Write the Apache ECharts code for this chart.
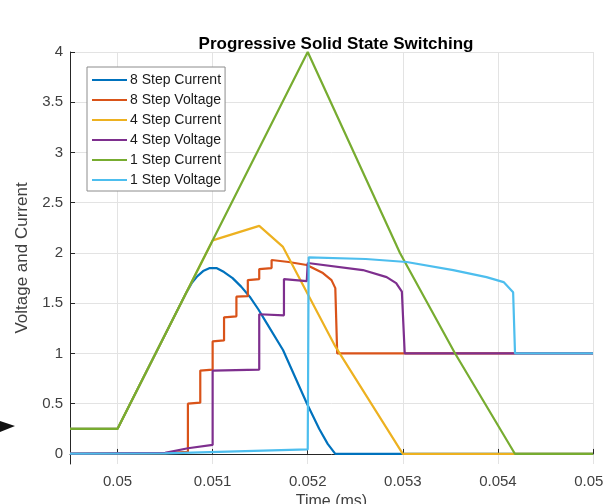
<!DOCTYPE html>
<html>
<head>
<meta charset="utf-8">
<script src="https://cdn.jsdelivr.net/npm/echarts@6/dist/echarts.min.js"></script>
<style>
  html, body { margin: 0; padding: 0; background: #fff; }
  #chart { width: 603px; height: 504px; }
</style>
</head>
<body>
<div id="chart"></div>
<script>
// axis ticks
const xTicks = [0.05, 0.051, 0.052, 0.053, 0.054, 0.055]
const yTicks = [0, 0.5, 1, 1.5, 2, 2.5, 3, 3.5, 4]

// series, [time (ms), value]
const names = ['8 Step Current', '8 Step Voltage', '4 Step Current', '4 Step Voltage', '1 Step Current', '1 Step Voltage']
const colors = ['#0072BD', '#D95319', '#EDB120', '#7E2F8E', '#77AC30', '#4DBEEE']

const step8Current = [
  [0.0495, 0.25], [0.05, 0.25], [0.05072, 1.6], [0.05078, 1.7], [0.05084, 1.77],
  [0.0509, 1.82], [0.05097, 1.85], [0.05104, 1.85], [0.05112, 1.81], [0.05121, 1.75],
  [0.0513, 1.665], [0.05139, 1.565], [0.05148, 1.44], [0.05157, 1.30], [0.05174, 1.035],
  [0.05199, 0.505], [0.05212, 0.25], [0.05221, 0.1], [0.05229, 0], [0.055, 0]
]
const step8Voltage = [
  [0.0495, 0.003], [0.0505, 0.008], [0.05074, 0.02], [0.05074, 0.5], [0.05087, 0.51],
  [0.05087, 0.83], [0.0510, 0.84], [0.0510, 1.12], [0.05112, 1.13], [0.05112, 1.36],
  [0.05125, 1.37], [0.05125, 1.565], [0.05137, 1.57], [0.05137, 1.73], [0.05149, 1.74],
  [0.05149, 1.84], [0.05162, 1.85], [0.05162, 1.93], [0.0518, 1.91], [0.05199, 1.88],
  [0.05216, 1.80], [0.05225, 1.73], [0.05229, 1.65], [0.05231, 1.0], [0.055, 1.0]
]
const step4Current = [
  [0.0495, 0.25], [0.05, 0.25], [0.0510, 2.125], [0.05149, 2.27], [0.05174, 2.06],
  [0.05229, 1.07], [0.053, 0], [0.055, 0]
]
const step4Voltage = [
  [0.0495, 0.003], [0.0505, 0.01], [0.05074, 0.057], [0.0510, 0.09], [0.0510, 0.83],
  [0.05149, 0.84], [0.05149, 1.39], [0.05175, 1.38], [0.05175, 1.74], [0.05199, 1.72],
  [0.052, 1.72], [0.052, 1.9], [0.05258, 1.83], [0.05283, 1.76], [0.05293, 1.70],
  [0.05299, 1.615], [0.05302, 1.0], [0.055, 1.0]
]
const step1Current = [
  [0.0495, 0.25], [0.05, 0.25], [0.052, 4], [0.05297, 2.0], [0.05355, 1.0],
  [0.05418, 0], [0.055, 0]
]
const step1Voltage = [
  [0.0495, 0.003], [0.0505, 0.006], [0.052, 0.045], [0.05201, 1.957], [0.05261, 1.94],
  [0.05304, 1.91], [0.05353, 1.83], [0.05388, 1.76], [0.05406, 1.71], [0.05416, 1.61],
  [0.05418, 1.0], [0.055, 1.0]
]
const allData = [step8Current, step8Voltage, step4Current, step4Voltage, step1Current, step1Voltage]

const chart = echarts.init(document.getElementById('chart'))

const font = 'Liberation Sans, Arial'
const axisText = {color: '#404040', fontSize: 15, fontFamily: font}

let option = {
  animation: false,
  title: {
    text: 'Progressive Solid State Switching',
    left: 331,
    top: 31,
    textAlign: 'center',
    textStyle: {fontSize: 17, fontWeight: 'bold', color: '#000', fontFamily: font}
  },
  grid: {left: 70, right: 10, top: 52, bottom: 40, outerBoundsMode: 'none'},
  legend: {
    data: names,
    orient: 'vertical',
    left: 87,
    top: 67,
    icon: 'rect',
    itemWidth: 35,
    itemHeight: 2,
    itemGap: 4,
    padding: [5, 4, 3, 5],
    backgroundColor: '#fff',
    borderColor: '#8c8c8c',
    borderWidth: 1,
    borderRadius: 0,
    textStyle: {fontSize: 14, lineHeight: 16, color: '#1a1a1a', fontFamily: font, padding: [0, 0, 0, -2]}
  },
  xAxis: {
    type: 'value',
    min: 0.0495,
    max: 0.055,
    name: 'Time (ms)',
    nameLocation: 'middle',
    nameGap: 30,
    nameTextStyle: {...axisText, fontSize: 16},
    axisLine: {lineStyle: {color: '#262626', width: 1}},
    axisTick: {inside: true, length: 5, customValues: xTicks, lineStyle: {color: '#262626'}},
    axisLabel: {customValues: xTicks, margin: 10, ...axisText, formatter: v => String(+v.toFixed(3))},
    splitLine: {show: true, lineStyle: {color: '#e3e3e3', width: 1}}
  },
  yAxis: {
    type: 'value',
    min: -0.1,
    max: 4,
    name: 'Voltage and Current',
    nameLocation: 'middle',
    nameGap: 36,
    nameTextStyle: {...axisText, fontSize: 17},
    axisLine: {show: true, lineStyle: {color: '#262626', width: 1}},
    axisTick: {show: true, inside: true, length: 5, customValues: yTicks, lineStyle: {color: '#262626'}},
    axisLabel: {customValues: yTicks, margin: 7, ...axisText, formatter: v => String(+v.toFixed(1))},
    splitLine: {show: true, lineStyle: {color: '#e3e3e3', width: 1}}
  },
  graphic: [
    {
      type: 'polygon',
      shape: {points: [[0, 421], [15, 426], [0, 432]]},
      style: {fill: '#111'}
    }
  ],
  series: names.map((name, i) => ({
    name: name,
    type: 'line',
    data: allData[i],
    symbol: 'none',
    color: colors[i],
    lineStyle: {width: 2.2, color: colors[i]}
  }))
}

chart.setOption(option)
</script>
</body>
</html>
